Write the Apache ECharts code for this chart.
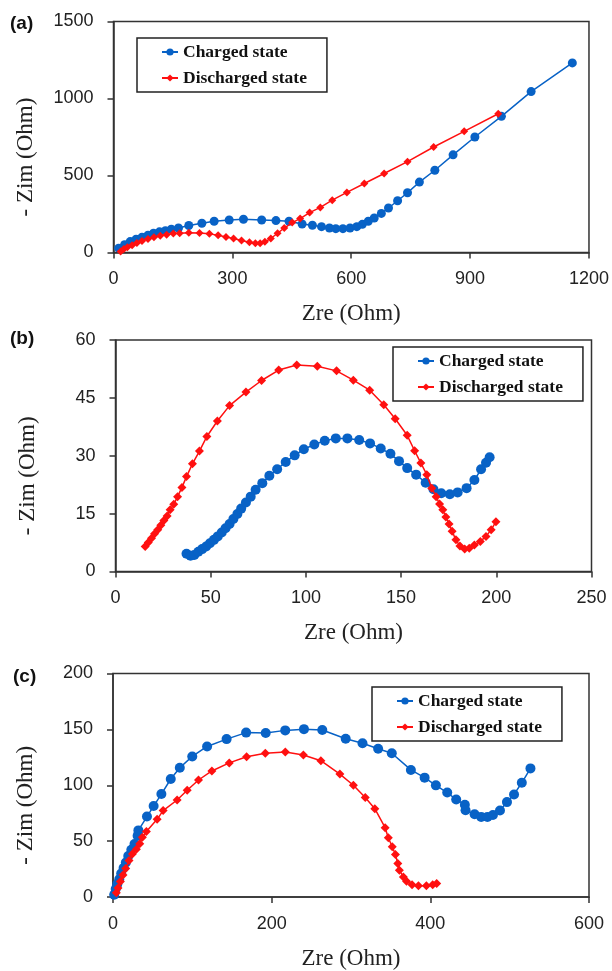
<!doctype html>
<html>
<head>
<meta charset="UTF-8">
<title>Nyquist plots</title>
<script src="https://cdn.jsdelivr.net/npm/echarts@6/dist/echarts.min.js"></script>
<style>
html,body{margin:0;padding:0;background:#fff;}
#chart{width:612px;height:971px;}
</style>
</head>
<body>
<div id="chart"></div>
<script type="text/javascript">
// (a) Zre / -Zim, Ohm
var aChargedX = [13,28,42,57,72,87,101,116,131,146,164,190,223,254,292,328,374,410,443,476,502,525,545,561,579,597,614,628,643,658,676,694,717,742,772,811,857,912,979,1054,1158];
var aChargedY = [28,50,71,86,99,112,125,134,142,151,159,175,190,203,211,216,211,207,203,185,177,168,159,155,155,159,168,183,203,224,254,289,336,388,457,534,634,750,884,1045,1231];
var aDischX = [18,26,35,47,59,72,87,102,118,134,151,167,190,217,242,264,284,303,323,343,358,370,382,397,414,431,451,471,495,522,552,589,633,683,742,808,885,971];
var aDischY = [6,22,34,47,62,75,88,99,108,116,123,125,129,127,121,112,101,91,78,67,60,60,69,91,125,159,194,220,259,293,340,390,448,513,590,685,787,901];

// (b)
var bChargedX = [37.3,39.4,41.4,43.5,45.5,47.6,49.6,51.7,53.7,55.8,57.8,59.9,61.9,64.0,66.0,68.5,71.0,73.6,77.1,80.8,84.9,89.4,94.1,98.9,104.4,109.9,115.7,121.8,128.0,133.7,139.3,144.4,148.9,153.2,157.9,162.9,167.0,171.1,175.6,179.7,184.4,188.5,192.0,194.6,196.5];
var bChargedY = [4.6,4.1,4.3,5.1,5.8,6.5,7.3,8.2,9.1,10.1,11.2,12.3,13.6,14.9,16.3,17.9,19.4,21.2,22.9,24.8,26.5,28.4,30.1,31.7,32.9,33.9,34.5,34.5,34.1,33.2,31.9,30.5,28.6,26.8,25.1,23.0,21.3,20.3,20.0,20.5,21.6,23.7,26.5,28.2,29.6];
var bDischX = [15.6,17.2,18.9,20.5,22.2,23.8,25.4,27.1,28.7,30.6,32.6,34.9,37.3,40.4,44.1,48.0,53.5,59.9,68.5,76.7,85.7,95.2,106.0,116.1,124.9,133.5,140.9,146.9,153.2,157.1,160.4,163.5,166.1,168.4,170.2,171.9,173.5,175.2,176.8,178.8,180.9,183.4,185.8,188.5,191.6,194.6,197.3,199.8];
var bDischY = [6.5,7.5,8.6,9.8,10.8,12.0,13.2,14.4,16.0,17.4,19.4,21.8,24.6,27.9,31.2,35.0,39.0,43.0,46.5,49.5,52.2,53.5,53.2,52.0,49.6,47.0,43.2,39.6,35.3,31.3,28.1,25.1,21.6,19.4,17.5,16.0,14.1,12.3,10.4,8.2,6.6,5.8,6.0,6.9,7.8,9.1,10.8,12.9];

// (c)
var cChargedX = [1.5,3.4,5.4,7.9,10.3,13.3,16.2,19.2,23.1,27.1,31,32,42.8,51.2,61.0,72.8,84.2,99.9,118.6,143.2,167.8,192.5,217.1,240.7,263.8,293.3,314.5,334.2,351.4,375.5,392.8,407.0,421.3,432.6,443.5,444.4,455.8,464.1,472.0,478.9,487.8,496.6,505.5,515.3,526.2];
var cChargedY = [2.0,7.2,11.5,15.8,21.0,25.9,30.8,36.6,42.3,47.5,54.7,59.6,72.0,81.4,92.1,105.6,115.7,125.8,134.7,141.3,147.1,146.8,149.1,150.2,149.4,141.6,137.6,132.7,128.6,113.7,106.8,99.9,93.5,87.2,82.6,77.7,74.0,71.7,71.7,73.4,77.4,84.9,91.8,102.2,115.1];
var cDischX = [4.2,6.3,9.3,12.6,16,20.2,24.4,29.5,33.7,37,42.1,55.6,63.2,80.8,93.5,107.8,124.6,146.5,168.4,192,217.2,240,262,286,303,318,330,343,347,352,356,359,361,366,370,377,385,395,403,408];
var cDischY = [3.75,8.1,13.8,19.6,25.4,32.6,38.4,42.7,47.6,53.4,58.6,69.5,77.3,86.8,95.5,104.7,112.8,120,125.5,128.7,129.8,127,122,110,100,89,79,62,53,45,38,30,24,18,14,11,10,10,11,12];

var blue = '#0862c6';
var red = '#ff1010';

function zip(xs, ys) {
	var out = [];
	for (var i = 0; i < xs.length; i++) out.push([xs[i], ys[i]]);
	return out;
}

var grids = [
	{left: 113.5, top: 21.5, width: 476, height: 231},
	{left: 115.5, top: 340, width: 476, height: 231.5},
	{left: 113, top: 673.5, width: 476, height: 231.5}
];
var xMax = [1200, 250, 600], xStep = [300, 50, 200];
var yMax = [1500, 60, 200], yStep = [500, 15, 50];
var legendPos = [{left: 137, top: 38}, {left: 393, top: 347}, {left: 372, top: 687}];
var panelTags = ['(a)', '(b)', '(c)'];
var tagPos = [{left: 10, top: 14}, {left: 10, top: 329}, {left: 13, top: 667}];
var blueSize = [9, 10, 10], redSize = [8, 9, 9];

var xAxes = [], yAxes = [], series = [], legends = [], titles = [];
for (var k = 0; k < 3; k++) {
	xAxes.push({
		gridIndex: k, type: 'value', min: 0, max: xMax[k], interval: xStep[k],
		name: 'Zre (Ohm)', nameLocation: 'middle', nameGap: 50,
		nameTextStyle: {fontFamily: 'Liberation Serif', fontSize: 23, color: '#222'},
		axisLine: {show: true, lineStyle: {color: '#333', width: 1.5}},
		axisTick: {show: true, inside: false, length: 6, lineStyle: {color: '#333', width: 1.5}},
		axisLabel: {fontFamily: 'Liberation Sans', fontSize: 18, color: '#222', margin: 18,
			formatter: function (v) { return String(v); }},
		splitLine: {show: false}
	});
	yAxes.push({
		gridIndex: k, type: 'value', min: 0, max: yMax[k], interval: yStep[k],
		name: '- Zim (Ohm)', nameLocation: 'middle', nameGap: 76, nameRotate: 90,
		nameTextStyle: {fontFamily: 'Liberation Serif', fontSize: 23, color: '#222', padding: [0, 40, 0, 0]},
		axisLine: {show: true, lineStyle: {color: '#333', width: 1.5}},
		axisTick: {show: true, inside: false, length: 6, lineStyle: {color: '#333', width: 1.5}},
		axisLabel: {fontFamily: 'Liberation Sans', fontSize: 18, color: '#222', margin: 20,
			formatter: function (v) { return String(v); }},
		splitLine: {show: false}
	});
	legends.push({
		left: legendPos[k].left, top: legendPos[k].top, orient: 'vertical',
		data: ['Charged state', 'Discharged state'],
		textStyle: {fontFamily: 'Liberation Serif', fontWeight: 'bold', fontSize: 17.5, color: '#111'},
		itemWidth: 16, itemHeight: 9, itemGap: 8,
		borderColor: '#222', borderWidth: 1.5, padding: [5, 20, 5, 24],
		backgroundColor: '#fff'
	});
	titles.push({
		text: panelTags[k], left: tagPos[k].left, top: tagPos[k].top, padding: 0,
		textStyle: {fontFamily: 'Liberation Sans', fontWeight: 'bold', fontSize: 19, color: '#111'}
	});
}

var sets = [
	[zip(aChargedX, aChargedY), zip(aDischX, aDischY)],
	[zip(bChargedX, bChargedY), zip(bDischX, bDischY)],
	[zip(cChargedX, cChargedY), zip(cDischX, cDischY)]
];
for (var k = 0; k < 3; k++) {
	series.push({
		name: 'Charged state', type: 'line', xAxisIndex: k, yAxisIndex: k,
		data: sets[k][0], symbol: 'circle', symbolSize: blueSize[k],
		itemStyle: {color: blue}, lineStyle: {color: blue, width: 1.5}, z: 2
	});
	series.push({
		name: 'Discharged state', type: 'line', xAxisIndex: k, yAxisIndex: k,
		data: sets[k][1], symbol: 'diamond', symbolSize: redSize[k],
		itemStyle: {color: red}, lineStyle: {color: red, width: 1.5}, z: 3
	});
}

var chart = echarts.init(document.getElementById('chart'));
chart.setOption({
	animation: false,
	backgroundColor: '#fff',
	title: titles,
	legend: legends,
	grid: grids.map(function (g) {
		return {left: g.left, top: g.top, width: g.width, height: g.height, show: true, borderColor: '#333', borderWidth: 1.5, backgroundColor: 'transparent'};
	}),
	xAxis: xAxes,
	yAxis: yAxes,
	series: series
});
</script>
</body>
</html>
